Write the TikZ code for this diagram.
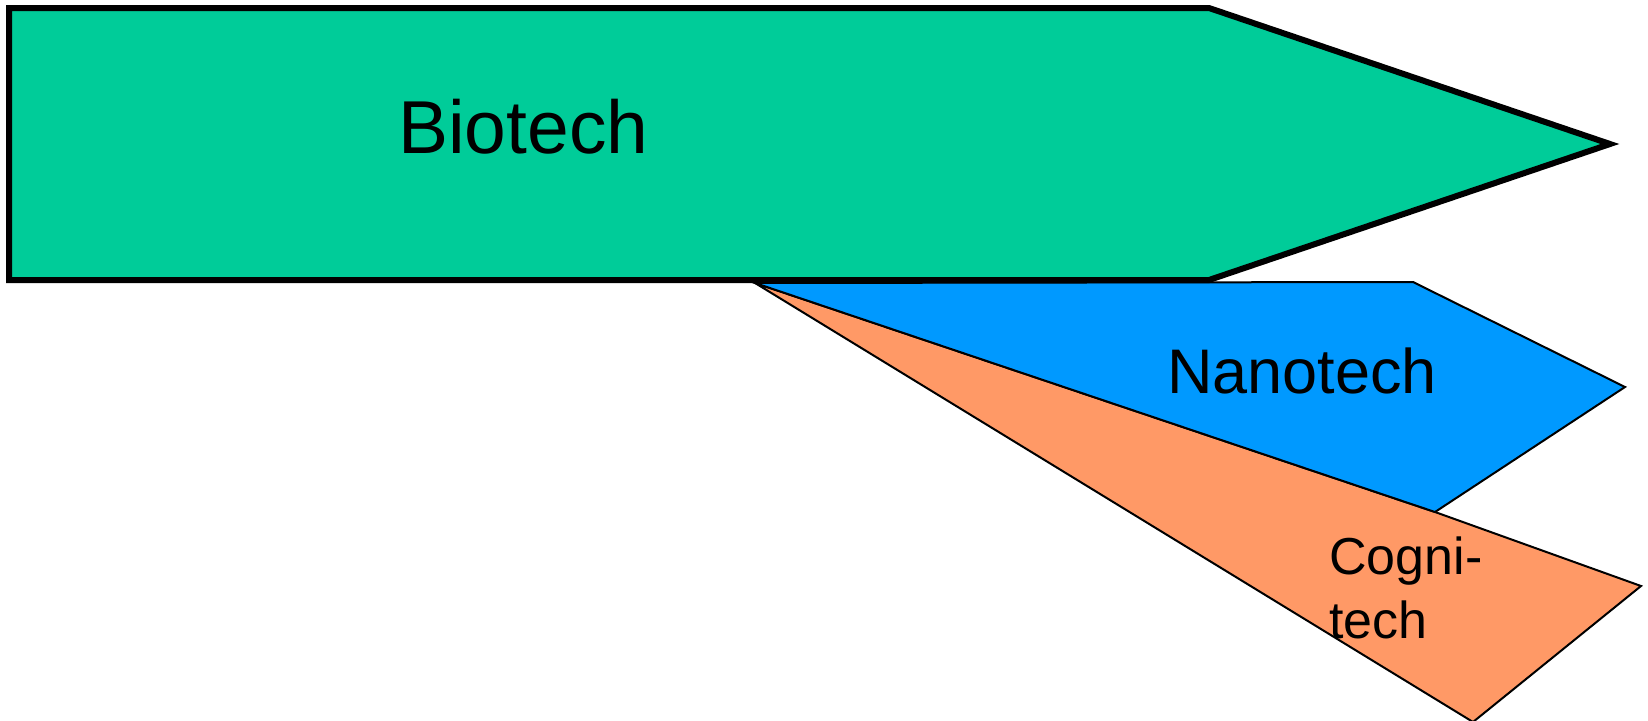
\documentclass[tikz,border=0pt]{standalone}
\usepackage{fontspec}
\setmainfont{Liberation Sans}
\definecolor{biog}{HTML}{00CC99}
\definecolor{nanob}{HTML}{0099FF}
\definecolor{cogo}{HTML}{FF9966}
\begin{document}
\begin{tikzpicture}[x=1pt,y=-1pt,
  thinshape/.style={draw=black,line width=2pt,line join=miter},
  thickshape/.style={draw=black,line width=6pt,line join=miter},
  lbl/.style={inner sep=0pt,anchor=base west,text=black}]
\useasboundingbox (0,0) rectangle (1648,720);
\fill[white] (0,0) rectangle (1648,720);
% Cognitech
\path[thinshape,fill=cogo] (755,283) -- (1435,512) -- (1641,586) -- (1473,722) -- cycle;
% Nanotech
\path[thinshape,fill=nanob] (755,283) -- (1413,282) -- (1625,387) -- (1435,512) -- cycle;
% Biotech
\path[thickshape,fill=biog] (9,8) -- (1209,8) -- (1610,144) -- (1209,280) -- (9,280) -- cycle;
\node[lbl,font=\fontsize{75}{75}\selectfont] (bio) at (398,153) {Biotech};
\node[lbl,font=\fontsize{63}{63}\selectfont] (nano) at (1167,393) {Nanotech};
\node[lbl,font=\fontsize{52}{52}\selectfont] (cog1) at (1329,574) {Cogni-};
\node[lbl,font=\fontsize{52}{52}\selectfont] (cog2) at (1329,638) {tech};
\end{tikzpicture}
\end{document}
